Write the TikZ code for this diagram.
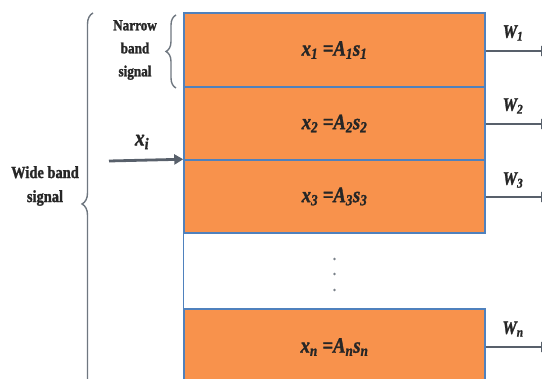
\documentclass[tikz,border=0pt]{standalone}
\usepackage{fontspec}
\setmainfont{Liberation Serif}
\newfontfamily\cond[FakeStretch=0.85, FakeBold=1.5]{Liberation Serif Bold}
\newfontfamily\condit[FakeStretch=0.85, FakeBold=1.5]{Liberation Serif Bold Italic}
\usetikzlibrary{decorations.pathreplacing,arrows.meta}
\definecolor{boxfill}{HTML}{F8924C}
\definecolor{boxline}{HTML}{4F81BD}
\definecolor{arrowgray}{HTML}{58606B}
\definecolor{bracegray}{HTML}{6F7780}
\newcommand{\sbs}[1]{\textsubscript{#1}}
\tikzset{
  bandbox/.style={draw=boxline, line width=1.5pt, fill=boxfill, minimum width=301pt, inner sep=0pt, font=\condit\fontsize{22}{24}\selectfont, text=black!85},
  outarrow/.style={draw=arrowgray, line width=2.8pt, -{Triangle[length=9pt,width=10pt]}},
  wlabel/.style={font=\condit\fontsize{19}{20}\selectfont, text=black!85},
  bracestyle/.style={draw=bracegray, line width=1.4pt, decorate},
  sidetext/.style={align=center, font=\cond\fontsize{15.5}{23}\selectfont, text=black!85}
}
\begin{document}
\begin{tikzpicture}[x=1pt,y=-1pt]
\useasboundingbox (0,0) rectangle (542,379);
\fill[white] (0,0) rectangle (542,379);
\begin{scope}
\clip (0,0) rectangle (542,379);
\node[bandbox, minimum height=74pt] (b1) at (334.5,50) {x\sbs{1} =A\sbs{1}s\sbs{1}};
\node[bandbox, minimum height=73pt] (b2) at (334.5,123.5) {x\sbs{2} =A\sbs{2}s\sbs{2}};
\node[bandbox, minimum height=73pt] (b3) at (334.5,196.5) {x\sbs{3} =A\sbs{3}s\sbs{3}};
\node[bandbox, minimum height=76pt] (bn) at (334.5,347) {x\sbs{n} =A\sbs{n}s\sbs{n}};
\draw[boxline, line width=1.5pt] (b3.south west) -- (bn.north west);
\fill[arrowgray!80] (334.5,259) circle (1.4pt) (334.5,274) circle (1.4pt) (334.5,290) circle (1.4pt);

\coordinate (e1) at (550,51);
\coordinate (e2) at (550,124);
\coordinate (e3) at (550,197);
\coordinate (en) at (550,347);
\draw[outarrow] (b1.east |- e1) -- (e1);
\draw[outarrow] (b2.east |- e2) -- (e2);
\draw[outarrow] (b3.east |- e3) -- (e3);
\draw[outarrow] (bn.east) -- (en);
\node[wlabel] (w1) at (513,33) {W\sbs{1}};
\node[wlabel] (w2) at (513,106) {W\sbs{2}};
\node[wlabel] (w3) at (513,180) {W\sbs{3}};
\node[wlabel] (wn) at (513,329) {W\sbs{n}};

\coordinate (xin) at (109,161);
\draw[outarrow] (xin) -- (b3.north west);
\node[wlabel, font=\condit\fontsize{23}{24}\selectfont] (xi) at (142,142) {x\sbs{i}};

\draw[bracestyle, decoration={brace, amplitude=10pt}] (176,88) -- (176,15);
\node[sidetext] (narrow) at (135,50) {Narrow\\band\\signal};
\draw[bracestyle, decoration={brace, amplitude=11pt}] (93,395) -- (93,13);
\node[sidetext, font=\cond\fontsize{17}{24}\selectfont] (wide) at (45,186) {Wide band\\signal};
\end{scope}
\end{tikzpicture}
\end{document}
